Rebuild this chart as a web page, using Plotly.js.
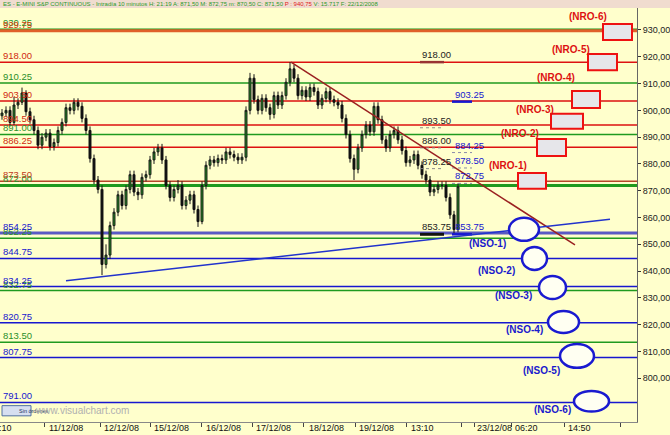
<!DOCTYPE html>
<html><head><meta charset="utf-8">
<script src="https://cdn.plot.ly/plotly-3.0.1.min.js"></script>
<style>html,body{margin:0;padding:0;background:#FFFFCC;}#chart{width:670px;height:435px;}</style>
</head><body><div id="chart"></div>
<script>
// ---- price bars (10-minute candles, sampled) ----
const openP = [898,899,900,895.5,902,903,906.5,899.5,896.5,892.5,887,890,891.5,886.5,888,892.5,895.5,901,900,903,901.5,897,892.5,882,874,870.5,842.5,846,857,862,868.5,864.5,870.5,876,869.5,868.5,875,876,881.5,884.5,886,881.5,872,867.5,870.5,872,864.5,866.5,868.5,863,858.5,872,879.5,881.5,880.5,882,881.5,884.5,883.5,882.5,881.5,882.5,900,912,904,900,904.5,901,898.5,905.5,902,905.5,910.5,915.5,912,905.5,907.5,905,908.5,907,902,904.5,907,904,903,902,897,891,882,878,886,891,894.5,892,901.5,896.5,889,886,891,892.5,889,885,880.5,881.5,883.5,879.5,876,874,869.5,870.5,872,872,867.5,861,855.5];
const highP = [900.5,901.5,901.5,905,904.5,908.5,907.5,901,898,894,891.5,893,893,889.5,894,897,902.5,902.5,904.5,904.5,903,898.5,894,883.5,875.5,872,850,858.5,863.5,870,870,872,877.5,877.5,871,876.5,877.5,883,886,887.5,887.5,883,873.5,872,874,873.5,868,870,870,864.5,873.5,881,883,883,883.5,883.5,886,886,885,884,884,901.5,914,913.5,905.5,906,906,902.5,907,907,907,912,918,917,913.5,909,909,910,910,908.5,906,908.5,908.5,905.5,904.5,903.5,898.5,892.5,883.5,887.5,892.5,896,896,903,903,898,890.5,892.5,894,894,890.5,886.5,883,885,885,881,877.5,875.5,872,873.5,873.5,873.5,869,862.5,872.75];
const lowP  = [896.5,897.5,894,894.5,900.5,902,898,895,891,885.5,885.5,888.5,885,885,886.5,891,894,898.5,898.5,900,895.5,891,880.5,872.5,869,838.5,841,844.5,855.5,860.5,863,863,869,868,866.5,867,873.5,874.5,880,883,880,870.5,866,866,869,863,863,865,861.5,856.5,857.5,870.5,878,879,879,880,880,882,881,880,880,881,898.5,902.5,898.5,898.5,899.5,896.5,897,900.5,900.5,904,909,910.5,904,904,903.5,903.5,905.5,900.5,900.5,903,902.5,901.5,900.5,895.5,889.5,880.5,874,876.5,884.5,889.5,890.5,890.5,895,887.5,884.5,884.5,889.5,887.5,883.5,879,879,880,878,874.5,872.5,868,868,869,870.5,866,859.5,853.75,854.5];
const closeP= [899,900,895.5,902,903,906.5,899.5,896.5,892.5,887,890,891.5,886.5,888,892.5,895.5,901,900,903,901.5,897,892.5,882,874,870.5,842.5,846,857,862,868.5,864.5,870.5,876,869.5,868.5,875,876,881.5,884.5,886,881.5,872,867.5,870.5,872,864.5,866.5,868.5,863,858.5,872,879.5,881.5,880.5,882,881.5,884.5,883.5,882.5,881.5,882.5,900,912,904,900,904.5,901,898.5,905.5,902,905.5,910.5,915.5,912,905.5,907.5,905,908.5,907,902,904.5,907,904,903,902,897,891,882,878,886,891,894.5,892,901.5,896.5,889,886,891,892.5,889,885,880.5,881.5,883.5,879.5,876,874,869.5,870.5,872,872,867.5,861,855.5,871.5];

// ---- horizontal levels ----
const redLevels   = [929.75, 918.00, 903.50, 894.50, 886.25, 873.50];
const greenLevels = [930.25, 910.25, 891.00, 872.00, 852.25, 832.75, 813.50];
const blueLevels  = [854.25, 844.75, 834.25, 820.75, 807.75, 791.00];

// ---- in-chart price notes ----
const noteBlackText = ["918.00","893.50","886.00","878.25","853.75"];
const noteBlackVal  = [918.00, 893.50, 886.00, 878.25, 853.75];
const noteBlueText  = ["903.25","884.25","878.50","872.75","853.75"];
const noteBlueVal   = [903.25, 884.25, 878.50, 872.75, 853.75];

// ---- objectives ----
const nroNames = ["(NRO-1)","(NRO-2)","(NRO-3)","(NRO-4)","(NRO-5)","(NRO-6)"];
const nroLow   = [870.7, 883.0, 893.1, 900.9, 915.0, 926.3];
const nroHigh  = [876.6, 889.3, 898.7, 907.2, 921.0, 932.2];
const nroStart = [129, 133.75, 137.25, 142.5, 146.5, 150.25];
const nroEnd   = [136, 141, 145.25, 149.5, 153.75, 157.5];
const nroLabX  = [126.5, 129.5, 133.25, 138.5, 142.25, 146.5];
const nroLabY  = [879.25, 891.2, 900.15, 912.1, 922.9, 934.85];

const nsoNames = ["(NSO-1)","(NSO-2)","(NSO-3)","(NSO-4)","(NSO-5)","(NSO-6)"];
const nsoLow   = [851.3, 840.4, 829.6, 816.9, 803.9, 787.6];
const nsoHigh  = [859.9, 849.0, 838.2, 825.1, 812.8, 795.3];
const nsoStart = [126.75, 130, 134.25, 136.5, 139.5, 143];
const nsoEnd   = [134.25, 136.25, 141, 144.25, 148, 151.75];
const nsoLabX  = [121.25, 123.5, 127.75, 130.5, 134.75, 137.5];
const nsoLabY  = [850.5, 840.1, 830.75, 818.4, 803.1, 788.2];

// ---- trend lines ----
const downTrend = {x:[72.25, 143.25], y:[918.0, 849.8]};
const upTrend   = {x:[16, 152], y:[836.4, 859.4]};

// ---- axes ----
const xTickPos  = [10.5, 24.5, 37, 49.75, 62.5, 75.25, 88.25, 101, 114.75, 118, 127.25, 140.5, 154.5];
const xLabText  = ["11/12/08","12/12/08","15/12/08","16/12/08","17/12/08","18/12/08","19/12/08","13:10","23/12/08","06:20","14:50"];
const xLabPos   = [11.5, 25.25, 37.75, 50.75, 63.25, 76.5, 89, 102, 118.5, 128, 141.25];
const yTickVals = [800,810,820,830,840,850,860,870,880,890,900,910,920,930];
const yTickText = ["800,00","810,00","820,00","830,00","840,00","850,00","860,00","870,00","880,00","890,00","900,00","910,00","920,00","930,00"];

const bar = closeP.map((_, i) => i);

const FONT = 'Arial, "Liberation Sans", sans-serif';
const RED = '#dd1111', GREEN = '#1f9a1f', BLUE = '#1717cf';

const shapes = [];
const ann = [];

// header band
shapes.push({type:'rect', xref:'paper', yref:'paper', x0:0, x1:670/637, y0:1, y1:1+8/414, fillcolor:'#f0dccf', line:{width:0}, layer:'above'});
ann.push({xref:'paper', yref:'paper', x:0.002, y:1+4.3/414, xanchor:'left', yanchor:'middle', showarrow:false,
  text:'ES - E-MINI S&P CONTINUOUS - Intradía 10 minutos H: 21:19 A: 871,50 M: 872,75 m: 870,50 C: 871,50 <span style="color:#e02020">P : 940,75</span> V: 15.717 F: 22/12/2008',
  font:{family:FONT, size:6, color:'#2a9a2a'}});

function level(v, color, width, labColor){
  shapes.push({type:'line', xref:'paper', x0:0, x1:1, yref:'y', y0:v, y1:v, line:{color:color, width:width}, layer:'below'});
  ann.push({xref:'paper', x:0.002, yref:'y', y:v, xanchor:'left', yanchor:'bottom', showarrow:false, yshift:-1,
    text:v.toFixed(2), font:{family:FONT, size:9.5, color:labColor}});
}
greenLevels.forEach(v => level(v, GREEN, v === 872.00 ? 3 : 1.5, '#2a8f2a'));
redLevels.forEach(v => {
  if (v === 929.75) level(v, '#e0602a', 3, '#d04010');
  else if (v === 873.50) level(v, '#b5452a', 1.5, '#c03a1a');
  else level(v, RED, 1.5, '#d02a10');
});
blueLevels.forEach(v => level(v, v === 854.25 ? '#5a5ac4' : BLUE, v === 854.25 ? 3 : 1.5, BLUE));

// price notes
noteBlackText.forEach((t, i) => {
  const v = noteBlackVal[i];
  let st = {color:'#8a8a8a', width:1, dash:'dot'};
  if (t === '918.00' ) st = {color:'#993333', width:2.5};
  if (v === 853.75) st = {color:'#111', width:3};
  shapes.push({type:'line', xref:'x', x0:104.5, x1:110.5, yref:'y', y0:v, y1:v, line:st});
  ann.push({xref:'x', x:104.6, yref:'y', y:v, xanchor:'left', yanchor:'bottom', showarrow:false, yshift:0,
    text:t, font:{family:FONT, size:9.5, color:'#222'}});
});
noteBlueText.forEach((t, i) => {
  const v = noteBlueVal[i];
  let st = {color:'#8a8aa8', width:1, dash:'dot'};
  if (t === '903.25' || v === 853.75) st = {color:BLUE, width:2.5};
  shapes.push({type:'line', xref:'x', x0:112.5, x1:117.5, yref:'y', y0:v, y1:v, line:st});
  ann.push({xref:'x', x:112.8, yref:'y', y:v, xanchor:'left', yanchor:'bottom', showarrow:false,
    text:t, font:{family:FONT, size:9.5, color:BLUE}});
});

// trend lines
shapes.push({type:'line', xref:'x', yref:'y', x0:downTrend.x[0], x1:downTrend.x[1], y0:downTrend.y[0], y1:downTrend.y[1], line:{color:'#9a2020', width:1.5}});
shapes.push({type:'line', xref:'x', yref:'y', x0:upTrend.x[0], x1:upTrend.x[1], y0:upTrend.y[0], y1:upTrend.y[1], line:{color:'#2233cc', width:1.5}});

// NRO boxes
nroNames.forEach((n, i) => {
  shapes.push({type:'rect', xref:'x', yref:'y', x0:nroStart[i], x1:nroEnd[i], y0:nroLow[i], y1:nroHigh[i], fillcolor:'#e6e6ea', line:{color:'#ee1111', width:2}});
  ann.push({xref:'x', yref:'y', x:nroLabX[i], y:nroLabY[i], showarrow:false, text:'<b>'+n+'</b>', font:{family:FONT, size:10, color:'#dd1111'}});
});
// NSO ellipses
nsoNames.forEach((n, i) => {
  shapes.push({type:'circle', xref:'x', yref:'y', x0:nsoStart[i], x1:nsoEnd[i], y0:nsoLow[i], y1:nsoHigh[i], fillcolor:'#fffff2', line:{color:'#1a1ad0', width:2.5}});
  ann.push({xref:'x', yref:'y', x:nsoLabX[i], y:nsoLabY[i], showarrow:false, text:'<b>'+n+'</b>', font:{family:FONT, size:10, color:'#1a1acc'}});
});

// x labels
xLabText.forEach((t, i) => {
  ann.push({xref:'x', x:xLabPos[i], yref:'paper', y:-6/414, xanchor:'left', yanchor:'middle', showarrow:false, borderpad:0, text:t, font:{family:FONT, size:9, color:'#111'}});
});
ann.push({xref:'paper', x:-0.003, yref:'paper', y:-6/414, xanchor:'left', yanchor:'middle', showarrow:false, borderpad:0, text:':10', font:{family:FONT, size:9, color:'#111'}});

// footer
shapes.push({type:'rect', xref:'paper', yref:'y', x0:2/637, x1:31/637, y0:786.0, y1:789.8, fillcolor:'#d6dff0', line:{color:'#5070a0', width:1}});
ann.push({xref:'paper', yref:'y', x:16.5/637, y:787.9, showarrow:false, text:'Sin órdenes', font:{family:FONT, size:5.5, color:'#203060'}});
ann.push({xref:'paper', yref:'y', x:33/637, y:788.0, xanchor:'left', showarrow:false, text:'www.visualchart.com', font:{family:FONT, size:10, color:'#b0b0b0'}});

const trace = {
  type:'candlestick', x:bar, open:openP, high:highP, low:lowP, close:closeP,
  increasing:{line:{color:'#1b1b1b', width:1}, fillcolor:'#1f8f1f'},
  decreasing:{line:{color:'#111111', width:1}, fillcolor:'#111111'},
  whiskerwidth:0, hoverinfo:'skip'
};

const layout = {
  width:670, height:435,
  margin:{l:0, r:33, t:8, b:13, pad:0},
  paper_bgcolor:'#FFFFCC', plot_bgcolor:'#FFFFCC',
  showlegend:false, hovermode:false,
  xaxis:{range:[-0.5, 158.75], showgrid:false, zeroline:false, rangeslider:{visible:false},
    tickmode:'array', tickvals:xTickPos, showticklabels:false, ticks:'outside', ticklen:4, tickcolor:'#444',
    showline:true, linecolor:'#888', linewidth:1, fixedrange:true},
  yaxis:{side:'right', range:[783.7, 938.2], showgrid:false, zeroline:false,
    tickmode:'array', tickvals:yTickVals, ticktext:yTickText, ticks:'outside', ticklen:3, tickcolor:'#333',
    tickfont:{family:FONT, size:9, color:'#222'}, showline:true, linecolor:'#666', linewidth:1, fixedrange:true},
  shapes:shapes, annotations:ann
};

Plotly.newPlot('chart', [trace], layout, {staticPlot:true, displayModeBar:false});
</script>
</body></html>
